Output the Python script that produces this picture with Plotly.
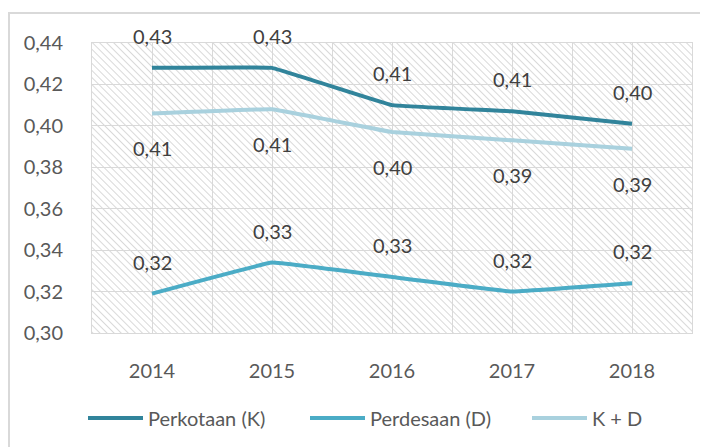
import base64
import plotly.graph_objects as go

years = ["2014", "2015", "2016", "2017", "2018"]
perkotaan = [0.428, 0.428, 0.410, 0.407, 0.401]
perdesaan = [0.319, 0.334, 0.327, 0.320, 0.324]
kd = [0.406, 0.408, 0.397, 0.393, 0.389]
y_ticks = [0.30, 0.32, 0.34, 0.36, 0.38, 0.40, 0.42, 0.44]

names = ["Perkotaan (K)", "Perdesaan (D)", "K + D"]
colors = ["#31849B", "#4BACC6", "#A9D1DE"]
series = [perkotaan, perdesaan, kd]
label_shift = [32, 32, -35]

FONT = "Lato"
W, H = 708, 447
OFF = 8  # page body margin
L, R, T, B = 92 - OFF, 16 + OFF, 43 - OFF, 114 + OFF
PW, PH = W - L - R, H - T - B

xs = list(range(len(years)))

fig = go.Figure()
for name, col, vals in zip(names, colors, series):
    fig.add_trace(go.Scatter(
        x=xs, y=vals, name=name, mode="lines",
        line=dict(color=col, width=4, shape="spline", smoothing=0.15),
        hoverinfo="skip",
    ))

annotations = []
for vals, sh in zip(series, label_shift):
    for i, v in enumerate(vals):
        annotations.append(dict(
            x=i, y=v, xref="x", yref="y", showarrow=False,
            text=f"{v:.2f}".replace(".", ","), yshift=sh,
            font=dict(family=FONT, size=20, color="#404040"),
        ))

svg = (
    f"<svg xmlns='http://www.w3.org/2000/svg' width='{PW}' height='{PH}'>"
    "<defs><pattern id='p' width='5' height='5' patternUnits='userSpaceOnUse' "
    "patternTransform='rotate(-45)'>"
    "<line x1='0' y1='0' x2='0' y2='5' stroke='#c8c8c8' stroke-width='1.4'/>"
    "</pattern></defs>"
    f"<rect width='{PW}' height='{PH}' fill='white'/>"
    f"<rect width='{PW}' height='{PH}' fill='url(#p)'/></svg>"
)
src = "data:image/svg+xml;base64," + base64.b64encode(svg.encode()).decode()

fig.update_layout(
    width=W, height=H,
    margin=dict(l=L, r=R, t=T, b=B, autoexpand=False),
    paper_bgcolor="white",
    plot_bgcolor="rgba(0,0,0,0)",
    separators=", ",
    font=dict(family=FONT, size=20, color="#595959"),
    showlegend=True,
    legend=dict(
        orientation="h", x=-0.015, xanchor="left", y=-0.293, yanchor="middle",
        font=dict(family=FONT, size=20, color="#595959"),
        itemwidth=55, entrywidth=152, entrywidthmode="pixels",
        bgcolor="rgba(0,0,0,0)",
    ),
    images=[dict(
        source=src, xref="paper", yref="paper", x=0, y=1,
        sizex=1, sizey=1, sizing="stretch", layer="below",
        xanchor="left", yanchor="top",
    )],
    annotations=annotations,
    shapes=[dict(
        type="rect", xref="paper", yref="paper",
        x0=(9 - OFF - L) / PW, x1=(W + 5 - L) / PW,
        y0=-(H + 5 - T - PH) / PH, y1=1 + (T - (13 - OFF)) / PH,
        line=dict(color="#d9d9d9", width=2), fillcolor="rgba(0,0,0,0)",
        layer="below",
    )],
)

fig.update_xaxes(
    range=[-0.5, len(years) - 0.5],
    tickmode="array", tickvals=xs, ticktext=years,
    showgrid=True, gridcolor="#d9d9d9", gridwidth=1,
    minor=dict(tick0=0.5, dtick=1, showgrid=True, gridcolor="#d9d9d9", gridwidth=1),
    showline=True, linecolor="#d9d9d9", linewidth=1, mirror=True,
    ticks="", ticklabelstandoff=20, zeroline=False,
    tickfont=dict(family=FONT, size=20, color="#595959"),
)
fig.update_yaxes(
    range=[y_ticks[0], y_ticks[-1]],
    tickmode="array", tickvals=y_ticks, tickformat=".2f",
    showgrid=True, gridcolor="#d9d9d9", gridwidth=1,
    showline=True, linecolor="#d9d9d9", linewidth=1, mirror=True,
    ticks="", ticklabelstandoff=24, zeroline=False,
    tickfont=dict(family=FONT, size=20, color="#595959"),
)

fig.write_html("out.html")
